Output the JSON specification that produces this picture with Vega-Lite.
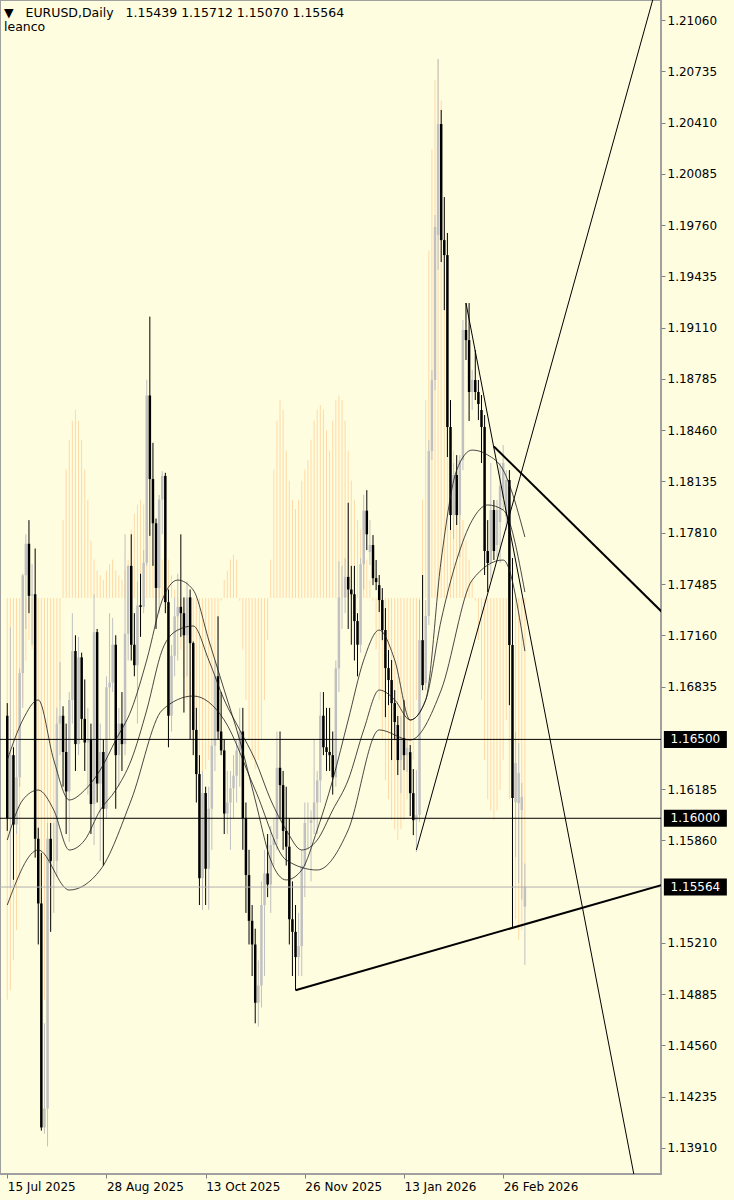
{
"$schema":"https://vega.github.io/schema/vega-lite/v6.json",
"width":661,"height":1174,
"autosize":{"type":"none"},
"padding":{"left":0,"top":0,"right":73,"bottom":26},
"background":"#FFFDE0",
"title":{"text":["▼\u00a0\u00a0\u00a0EURUSD,Daily\u00a0\u00a0\u00a01.15439 1.15712 1.15070 1.15564","leanco"],"anchor":"start","frame":"group","orient":"top","offset":0,"dy":43,"dx":4,"baseline":"alphabetic","lineHeight":14,"font":"DejaVu Sans","fontSize":12.5,"fontWeight":"normal","color":"#000000"},
"datasets":{
"candles":[
{"i":0,"o":1.1665,"h":1.1673,"l":1.1592,"c":1.1600},
{"i":1,"o":1.1600,"h":1.1721,"l":1.1556,"c":1.1640},
{"i":2,"o":1.1640,"h":1.1645,"l":1.1561,"c":1.1596},
{"i":3,"o":1.1596,"h":1.1650,"l":1.1590,"c":1.1626},
{"i":4,"o":1.1626,"h":1.1695,"l":1.1620,"c":1.1692},
{"i":5,"o":1.1692,"h":1.1755,"l":1.1670,"c":1.1754},
{"i":6,"o":1.1754,"h":1.1780,"l":1.1720,"c":1.1774},
{"i":7,"o":1.1774,"h":1.1789,"l":1.1730,"c":1.1741},
{"i":8,"o":1.1741,"h":1.1761,"l":1.1710,"c":1.1742},
{"i":9,"o":1.1742,"h":1.1771,"l":1.1575,"c":1.1587},
{"i":10,"o":1.1587,"h":1.1594,"l":1.1520,"c":1.1546},
{"i":11,"o":1.1546,"h":1.1578,"l":1.1402,"c":1.1404},
{"i":12,"o":1.1404,"h":1.1470,"l":1.1400,"c":1.1416},
{"i":13,"o":1.1416,"h":1.1597,"l":1.1392,"c":1.1587},
{"i":14,"o":1.1587,"h":1.1597,"l":1.1528,"c":1.1573},
{"i":15,"o":1.1573,"h":1.1597,"l":1.1540,"c":1.1573},
{"i":16,"o":1.1573,"h":1.1670,"l":1.1563,"c":1.1660},
{"i":17,"o":1.1660,"h":1.1699,"l":1.1640,"c":1.1665},
{"i":18,"o":1.1665,"h":1.1671,"l":1.1620,"c":1.1642},
{"i":19,"o":1.1642,"h":1.1660,"l":1.1590,"c":1.1617},
{"i":20,"o":1.1617,"h":1.1680,"l":1.1585,"c":1.1675},
{"i":21,"o":1.1675,"h":1.1730,"l":1.1660,"c":1.1706},
{"i":22,"o":1.1706,"h":1.1716,"l":1.1630,"c":1.1647},
{"i":23,"o":1.1647,"h":1.1715,"l":1.1640,"c":1.1702},
{"i":24,"o":1.1702,"h":1.1705,"l":1.1650,"c":1.1663},
{"i":25,"o":1.1663,"h":1.1688,"l":1.1630,"c":1.1648},
{"i":26,"o":1.1648,"h":1.1670,"l":1.1615,"c":1.1650},
{"i":27,"o":1.1650,"h":1.1660,"l":1.1590,"c":1.1609},
{"i":28,"o":1.1609,"h":1.1742,"l":1.1583,"c":1.1718},
{"i":29,"o":1.1718,"h":1.1720,"l":1.1610,"c":1.1622},
{"i":30,"o":1.1622,"h":1.1660,"l":1.1573,"c":1.1642},
{"i":31,"o":1.1642,"h":1.1650,"l":1.1570,"c":1.1606},
{"i":32,"o":1.1606,"h":1.1690,"l":1.1600,"c":1.1683},
{"i":33,"o":1.1683,"h":1.1730,"l":1.1650,"c":1.1686},
{"i":34,"o":1.1686,"h":1.1727,"l":1.1680,"c":1.1710},
{"i":35,"o":1.1710,"h":1.1716,"l":1.1606,"c":1.1640},
{"i":36,"o":1.1640,"h":1.1670,"l":1.1620,"c":1.1660},
{"i":37,"o":1.1660,"h":1.1680,"l":1.1630,"c":1.1647},
{"i":38,"o":1.1647,"h":1.1780,"l":1.1640,"c":1.1717},
{"i":39,"o":1.1717,"h":1.1760,"l":1.1700,"c":1.1760},
{"i":40,"o":1.1760,"h":1.1780,"l":1.1700,"c":1.1710},
{"i":41,"o":1.1710,"h":1.1730,"l":1.1690,"c":1.1697},
{"i":42,"o":1.1697,"h":1.1750,"l":1.1660,"c":1.1735},
{"i":43,"o":1.1735,"h":1.1755,"l":1.1715,"c":1.1734},
{"i":44,"o":1.1734,"h":1.1770,"l":1.1730,"c":1.1762},
{"i":45,"o":1.1762,"h":1.1878,"l":1.1760,"c":1.1868},
{"i":46,"o":1.1868,"h":1.1918,"l":1.1779,"c":1.1815},
{"i":47,"o":1.1815,"h":1.1838,"l":1.1760,"c":1.1787},
{"i":48,"o":1.1787,"h":1.1790,"l":1.1720,"c":1.1746},
{"i":49,"o":1.1746,"h":1.1805,"l":1.1730,"c":1.1802},
{"i":50,"o":1.1802,"h":1.1820,"l":1.1780,"c":1.1817},
{"i":51,"o":1.1817,"h":1.1819,"l":1.1730,"c":1.1737},
{"i":52,"o":1.1737,"h":1.1745,"l":1.1645,"c":1.1665},
{"i":53,"o":1.1665,"h":1.1710,"l":1.1655,"c":1.1703},
{"i":54,"o":1.1703,"h":1.1740,"l":1.1690,"c":1.1728},
{"i":55,"o":1.1728,"h":1.1755,"l":1.1700,"c":1.1734},
{"i":56,"o":1.1734,"h":1.1780,"l":1.1715,"c":1.1730},
{"i":57,"o":1.1730,"h":1.1740,"l":1.1667,"c":1.1716},
{"i":58,"o":1.1716,"h":1.1750,"l":1.1690,"c":1.1740},
{"i":59,"o":1.1740,"h":1.1745,"l":1.1650,"c":1.1711},
{"i":60,"o":1.1711,"h":1.1712,"l":1.1640,"c":1.1656},
{"i":61,"o":1.1656,"h":1.1670,"l":1.1610,"c":1.1628},
{"i":62,"o":1.1628,"h":1.1640,"l":1.1545,"c":1.1562},
{"i":63,"o":1.1562,"h":1.1630,"l":1.1542,"c":1.1616},
{"i":64,"o":1.1616,"h":1.1620,"l":1.1545,"c":1.1568},
{"i":65,"o":1.1568,"h":1.1620,"l":1.1542,"c":1.1606},
{"i":66,"o":1.1606,"h":1.1650,"l":1.1580,"c":1.1646},
{"i":67,"o":1.1646,"h":1.1700,"l":1.1630,"c":1.1690},
{"i":68,"o":1.1690,"h":1.1728,"l":1.1650,"c":1.1655},
{"i":69,"o":1.1655,"h":1.1680,"l":1.1640,"c":1.1643},
{"i":70,"o":1.1643,"h":1.1650,"l":1.1590,"c":1.1603},
{"i":71,"o":1.1603,"h":1.1630,"l":1.1590,"c":1.1610},
{"i":72,"o":1.1610,"h":1.1630,"l":1.1580,"c":1.1619},
{"i":73,"o":1.1619,"h":1.1640,"l":1.1600,"c":1.1627},
{"i":74,"o":1.1627,"h":1.1650,"l":1.1610,"c":1.1643},
{"i":75,"o":1.1643,"h":1.1670,"l":1.1620,"c":1.1655},
{"i":76,"o":1.1655,"h":1.1670,"l":1.1580,"c":1.1600},
{"i":77,"o":1.1600,"h":1.1610,"l":1.1540,"c":1.1564},
{"i":78,"o":1.1564,"h":1.1580,"l":1.1520,"c":1.1535},
{"i":79,"o":1.1535,"h":1.1545,"l":1.1500,"c":1.1520},
{"i":80,"o":1.1520,"h":1.1530,"l":1.1470,"c":1.1483},
{"i":81,"o":1.1483,"h":1.1510,"l":1.1468,"c":1.1494},
{"i":82,"o":1.1494,"h":1.1560,"l":1.1480,"c":1.1545},
{"i":83,"o":1.1545,"h":1.1580,"l":1.1500,"c":1.1565},
{"i":84,"o":1.1565,"h":1.1590,"l":1.1550,"c":1.1558},
{"i":85,"o":1.1558,"h":1.1595,"l":1.1540,"c":1.1583},
{"i":86,"o":1.1583,"h":1.1600,"l":1.1570,"c":1.1587},
{"i":87,"o":1.1587,"h":1.1655,"l":1.1580,"c":1.1632},
{"i":88,"o":1.1632,"h":1.1655,"l":1.1600,"c":1.1621},
{"i":89,"o":1.1621,"h":1.1630,"l":1.1580,"c":1.1592},
{"i":90,"o":1.1592,"h":1.1620,"l":1.1570,"c":1.1582},
{"i":91,"o":1.1582,"h":1.1600,"l":1.1520,"c":1.1536},
{"i":92,"o":1.1536,"h":1.1560,"l":1.1500,"c":1.1528},
{"i":93,"o":1.1528,"h":1.1545,"l":1.1491,"c":1.1512},
{"i":94,"o":1.1512,"h":1.1540,"l":1.1500,"c":1.1519},
{"i":95,"o":1.1519,"h":1.1580,"l":1.1500,"c":1.1570},
{"i":96,"o":1.1570,"h":1.1610,"l":1.1550,"c":1.1597},
{"i":97,"o":1.1597,"h":1.1610,"l":1.1580,"c":1.1597},
{"i":98,"o":1.1597,"h":1.1605,"l":1.1560,"c":1.1599},
{"i":99,"o":1.1599,"h":1.1650,"l":1.1590,"c":1.1610},
{"i":100,"o":1.1610,"h":1.1630,"l":1.1590,"c":1.1624},
{"i":101,"o":1.1624,"h":1.1680,"l":1.1610,"c":1.1665},
{"i":102,"o":1.1665,"h":1.1680,"l":1.1640,"c":1.1645},
{"i":103,"o":1.1645,"h":1.1670,"l":1.1630,"c":1.1642},
{"i":104,"o":1.1642,"h":1.1670,"l":1.1630,"c":1.1640},
{"i":105,"o":1.1640,"h":1.1655,"l":1.1615,"c":1.1626},
{"i":106,"o":1.1626,"h":1.1700,"l":1.1620,"c":1.1695},
{"i":107,"o":1.1695,"h":1.1763,"l":1.1680,"c":1.1740},
{"i":108,"o":1.1740,"h":1.1760,"l":1.1720,"c":1.1740},
{"i":109,"o":1.1740,"h":1.1765,"l":1.1730,"c":1.1753},
{"i":110,"o":1.1753,"h":1.1800,"l":1.1720,"c":1.1745},
{"i":111,"o":1.1745,"h":1.1760,"l":1.1710,"c":1.1742},
{"i":112,"o":1.1742,"h":1.1760,"l":1.1700,"c":1.1725},
{"i":113,"o":1.1725,"h":1.1730,"l":1.1690,"c":1.1710},
{"i":114,"o":1.1710,"h":1.1765,"l":1.1705,"c":1.1761},
{"i":115,"o":1.1761,"h":1.1805,"l":1.1745,"c":1.1795},
{"i":116,"o":1.1795,"h":1.1808,"l":1.1770,"c":1.1780},
{"i":117,"o":1.17687,"h":1.17890,"l":1.17605,"c":1.17732},
{"i":118,"o":1.17732,"h":1.17795,"l":1.17478,"c":1.17522},
{"i":119,"o":1.17522,"h":1.17637,"l":1.17446,"c":1.17497},
{"i":120,"o":1.17478,"h":1.17542,"l":1.17307,"c":1.17383},
{"i":121,"o":1.17383,"h":1.17459,"l":1.17129,"c":1.17193},
{"i":122,"o":1.17193,"h":1.17332,"l":1.16641,"c":1.16952},
{"i":123,"o":1.16952,"h":1.17066,"l":1.16717,"c":1.16876},
{"i":124,"o":1.16876,"h":1.17003,"l":1.16369,"c":1.16730},
{"i":125,"o":1.16730,"h":1.16812,"l":1.16495,"c":1.16610},
{"i":126,"o":1.16591,"h":1.16648,"l":1.16274,"c":1.16369},
{"i":127,"o":1.16369,"h":1.16648,"l":1.16159,"c":1.16508},
{"i":128,"o":1.16508,"h":1.16749,"l":1.16305,"c":1.16400},
{"i":129,"o":1.16400,"h":1.16495,"l":1.16293,"c":1.16445},
{"i":130,"o":1.16419,"h":1.16464,"l":1.16014,"c":1.16159},
{"i":131,"o":1.16159,"h":1.16312,"l":1.15893,"c":1.15988},
{"i":132,"o":1.15988,"h":1.16305,"l":1.15785,"c":1.16020},
{"i":133,"o":1.16020,"h":1.17383,"l":1.15976,"c":1.17129},
{"i":134,"o":1.17129,"h":1.17542,"l":1.16812,"c":1.16844},
{"i":135,"o":1.16857,"h":1.17383,"l":1.16812,"c":1.17282},
{"i":136,"o":1.17282,"h":1.18397,"l":1.17225,"c":1.18328},
{"i":137,"o":1.18328,"h":1.18841,"l":1.18271,"c":1.18778},
{"i":138,"o":1.18778,"h":1.19824,"l":1.18714,"c":1.19748},
{"i":139,"o":1.19697,"h":1.20813,"l":1.19475,"c":1.20401},
{"i":140,"o":1.20401,"h":1.20490,"l":1.19526,"c":1.19665},
{"i":141,"o":1.19665,"h":1.19938,"l":1.19221,"c":1.19570},
{"i":142,"o":1.19570,"h":1.19710,"l":1.18290,"c":1.18480},
{"i":143,"o":1.18480,"h":1.18651,"l":1.17827,"c":1.17922},
{"i":144,"o":1.17922,"h":1.18252,"l":1.17770,"c":1.18176},
{"i":145,"o":1.18176,"h":1.18302,"l":1.17859,"c":1.17922},
{"i":146,"o":1.17922,"h":1.18302,"l":1.17656,"c":1.18271},
{"i":147,"o":1.18271,"h":1.19158,"l":1.18207,"c":1.19095},
{"i":148,"o":1.19095,"h":1.19266,"l":1.18905,"c":1.19031},
{"i":149,"o":1.19031,"h":1.19266,"l":1.18518,"c":1.18702},
{"i":150,"o":1.18702,"h":1.18841,"l":1.18588,"c":1.18778},
{"i":151,"o":1.18778,"h":1.18968,"l":1.18651,"c":1.18702},
{"i":152,"o":1.18702,"h":1.18778,"l":1.18524,"c":1.18626},
{"i":153,"o":1.18588,"h":1.18683,"l":1.18252,"c":1.18480},
{"i":154,"o":1.18480,"h":1.18556,"l":1.17542,"c":1.17694},
{"i":155,"o":1.17694,"h":1.17890,"l":1.17434,"c":1.17618},
{"i":156,"o":1.17618,"h":1.18252,"l":1.17510,"c":1.17954},
{"i":157,"o":1.17954,"h":1.18017,"l":1.17637,"c":1.17694},
{"i":158,"o":1.17732,"h":1.18017,"l":1.17656,"c":1.17954},
{"i":159,"o":1.17878,"h":1.18252,"l":1.17618,"c":1.18106},
{"i":160,"o":1.18030,"h":1.18366,"l":1.17954,"c":1.18252},
{"i":161,"o":1.17916,"h":1.18207,"l":1.17827,"c":1.18144},
{"i":162,"o":1.18144,"h":1.18207,"l":1.16717,"c":1.17098},
{"i":163,"o":1.17098,"h":1.17650,"l":1.15311,"c":1.16128},
{"i":164,"o":1.16102,"h":1.16546,"l":1.15754,"c":1.16350},
{"i":165,"o":1.16096,"h":1.16476,"l":1.15589,"c":1.16286},
{"i":166,"o":1.16052,"h":1.16223,"l":1.15484,"c":1.16134},
{"i":167,"o":1.15439,"h":1.15712,"l":1.15070,"c":1.15564}
],
"osc":[
{"i":0,"v":1.1485},{"i":1,"v":1.1491},{"i":2,"v":1.1510},{"i":3,"v":1.1529},{"i":4,"v":1.1561},{"i":5,"v":1.1675},{"i":6,"v":1.1700},{"i":7,"v":1.1713},{"i":8,"v":1.1707},{"i":9,"v":1.1675},
{"i":10,"v":1.1580},{"i":11,"v":1.1517},{"i":12,"v":1.1485},{"i":13,"v":1.1510},{"i":14,"v":1.1536},{"i":15,"v":1.1561},{"i":16,"v":1.1612},{"i":17,"v":1.1675},{"i":18,"v":1.1789},{"i":19,"v":1.1821},
{"i":20,"v":1.1840},{"i":21,"v":1.1852},{"i":22,"v":1.1859},{"i":23,"v":1.1852},{"i":24,"v":1.1840},{"i":25,"v":1.1821},{"i":26,"v":1.1802},{"i":27,"v":1.1776},{"i":28,"v":1.1764},{"i":29,"v":1.1757},
{"i":30,"v":1.1754},{"i":31,"v":1.1751},{"i":32,"v":1.1757},{"i":33,"v":1.1761},{"i":34,"v":1.1764},{"i":35,"v":1.1757},{"i":36,"v":1.1754},{"i":37,"v":1.1751},{"i":38,"v":1.1757},{"i":39,"v":1.1764},
{"i":40,"v":1.1783},{"i":41,"v":1.1793},{"i":42,"v":1.1799},{"i":43,"v":1.1802},{"i":44,"v":1.1799},{"i":45,"v":1.1789},{"i":46,"v":1.1783},{"i":47,"v":1.1764},{"i":48,"v":1.1757},{"i":49,"v":1.1754},
{"i":50,"v":1.1764},{"i":51,"v":1.1773},{"i":52,"v":1.1764},{"i":53,"v":1.1754},{"i":54,"v":1.1745},{"i":55,"v":1.1726},{"i":56,"v":1.1707},{"i":57,"v":1.1689},{"i":58,"v":1.1675},{"i":59,"v":1.1662},
{"i":60,"v":1.1650},{"i":61,"v":1.1637},{"i":62,"v":1.1631},{"i":63,"v":1.1627},{"i":64,"v":1.1631},{"i":65,"v":1.1637},{"i":66,"v":1.1650},{"i":67,"v":1.1675},{"i":68,"v":1.1713},{"i":69,"v":1.1738},
{"i":70,"v":1.1751},{"i":71,"v":1.1757},{"i":72,"v":1.1764},{"i":73,"v":1.1767},{"i":74,"v":1.1764},{"i":75,"v":1.1738},{"i":76,"v":1.1707},{"i":77,"v":1.1675},{"i":78,"v":1.1650},{"i":79,"v":1.1637},
{"i":80,"v":1.1631},{"i":81,"v":1.1637},{"i":82,"v":1.1650},{"i":83,"v":1.1675},{"i":84,"v":1.1713},{"i":85,"v":1.1764},{"i":86,"v":1.1821},{"i":87,"v":1.1852},{"i":88,"v":1.1865},{"i":89,"v":1.1859},
{"i":90,"v":1.1833},{"i":91,"v":1.1814},{"i":92,"v":1.1802},{"i":93,"v":1.1796},{"i":94,"v":1.1802},{"i":95,"v":1.1814},{"i":96,"v":1.1821},{"i":97,"v":1.1827},{"i":98,"v":1.1840},{"i":99,"v":1.1852},
{"i":100,"v":1.1859},{"i":101,"v":1.1862},{"i":102,"v":1.1859},{"i":103,"v":1.1846},{"i":104,"v":1.1833},{"i":105,"v":1.1852},{"i":106,"v":1.1865},{"i":107,"v":1.1868},{"i":108,"v":1.1865},{"i":109,"v":1.1852},
{"i":110,"v":1.1833},{"i":111,"v":1.1814},{"i":112,"v":1.1802},{"i":113,"v":1.1789},{"i":114,"v":1.1783},{"i":115,"v":1.1776},{"i":116,"v":1.1764},{"i":117,"v":1.1751},{"i":118,"v":1.1738},{"i":119,"v":1.1707},
{"i":120,"v":1.1675},{"i":121,"v":1.1650},{"i":122,"v":1.1624},{"i":123,"v":1.1612},{"i":124,"v":1.1599},{"i":125,"v":1.1593},{"i":126,"v":1.1586},{"i":127,"v":1.1593},{"i":128,"v":1.1599},{"i":129,"v":1.1612},
{"i":130,"v":1.1624},{"i":131,"v":1.1637},{"i":132,"v":1.1675},{"i":133,"v":1.1738},{"i":134,"v":1.1802},{"i":135,"v":1.1865},{"i":136,"v":1.1960},{"i":137,"v":1.2024},{"i":138,"v":1.2068},{"i":139,"v":1.2081},
{"i":140,"v":1.2055},{"i":141,"v":1.1992},{"i":142,"v":1.1929},{"i":143,"v":1.1865},{"i":144,"v":1.1833},{"i":145,"v":1.1814},{"i":146,"v":1.1802},{"i":147,"v":1.1789},{"i":148,"v":1.1776},{"i":149,"v":1.1764},
{"i":150,"v":1.1751},{"i":151,"v":1.1738},{"i":152,"v":1.1713},{"i":153,"v":1.1675},{"i":154,"v":1.1637},{"i":155,"v":1.1612},{"i":156,"v":1.1605},{"i":157,"v":1.1599},{"i":158,"v":1.1605},{"i":159,"v":1.1618},
{"i":160,"v":1.1637},{"i":161,"v":1.1662},{"i":162,"v":1.1612},{"i":163,"v":1.1561},{"i":164,"v":1.1536},{"i":165,"v":1.1523},{"i":166,"v":1.1529},{"i":167,"v":1.1548}
],
"ma":[
{"ma":"F","i":0,"v":1.16369},{"ma":"F","i":5,"v":1.16623},{"ma":"F","i":10,"v":1.16750},{"ma":"F","i":15,"v":1.16369},{"ma":"F","i":20,"v":1.16116},{"ma":"F","i":25,"v":1.16179},{"ma":"F","i":30,"v":1.16306},{"ma":"F","i":35,"v":1.16496},{"ma":"F","i":40,"v":1.16686},{"ma":"F","i":45,"v":1.17003},{"ma":"F","i":50,"v":1.17383},{"ma":"F","i":55,"v":1.17510},{"ma":"F","i":60,"v":1.17447},{"ma":"F","i":65,"v":1.17130},{"ma":"F","i":70,"v":1.16813},{"ma":"F","i":75,"v":1.16496},{"ma":"F","i":80,"v":1.16116},{"ma":"F","i":85,"v":1.15735},{"ma":"F","i":90,"v":1.15609},{"ma":"F","i":95,"v":1.15672},{"ma":"F","i":100,"v":1.15926},{"ma":"F","i":105,"v":1.16243},{"ma":"F","i":110,"v":1.16623},{"ma":"F","i":115,"v":1.17003},{"ma":"F","i":120,"v":1.17193},{"ma":"F","i":125,"v":1.17003},{"ma":"F","i":130,"v":1.16623},{"ma":"F","i":135,"v":1.16750},{"ma":"F","i":140,"v":1.17637},{"ma":"F","i":145,"v":1.18207},{"ma":"F","i":150,"v":1.18334},{"ma":"F","i":155,"v":1.18303},{"ma":"F","i":160,"v":1.18207},{"ma":"F","i":167,"v":1.17783},
{"ma":"M","i":0,"v":1.15862},{"ma":"M","i":5,"v":1.16116},{"ma":"M","i":10,"v":1.16179},{"ma":"M","i":15,"v":1.16052},{"ma":"M","i":20,"v":1.15799},{"ma":"M","i":25,"v":1.15862},{"ma":"M","i":30,"v":1.16052},{"ma":"M","i":35,"v":1.16179},{"ma":"M","i":40,"v":1.16369},{"ma":"M","i":45,"v":1.16686},{"ma":"M","i":50,"v":1.17067},{"ma":"M","i":55,"v":1.17193},{"ma":"M","i":60,"v":1.17219},{"ma":"M","i":65,"v":1.17003},{"ma":"M","i":70,"v":1.16750},{"ma":"M","i":75,"v":1.16560},{"ma":"M","i":80,"v":1.16369},{"ma":"M","i":85,"v":1.16116},{"ma":"M","i":90,"v":1.15926},{"ma":"M","i":95,"v":1.15799},{"ma":"M","i":100,"v":1.15862},{"ma":"M","i":105,"v":1.16052},{"ma":"M","i":110,"v":1.16243},{"ma":"M","i":115,"v":1.16560},{"ma":"M","i":120,"v":1.16813},{"ma":"M","i":125,"v":1.16750},{"ma":"M","i":130,"v":1.16623},{"ma":"M","i":135,"v":1.16750},{"ma":"M","i":140,"v":1.17257},{"ma":"M","i":145,"v":1.17637},{"ma":"M","i":150,"v":1.17889},{"ma":"M","i":155,"v":1.17986},{"ma":"M","i":160,"v":1.17954},{"ma":"M","i":167,"v":1.17434},
{"ma":"S","i":0,"v":1.15450},{"ma":"S","i":10,"v":1.15799},{"ma":"S","i":20,"v":1.15545},{"ma":"S","i":30,"v":1.15672},{"ma":"S","i":40,"v":1.16116},{"ma":"S","i":50,"v":1.16686},{"ma":"S","i":60,"v":1.16775},{"ma":"S","i":70,"v":1.16623},{"ma":"S","i":80,"v":1.16179},{"ma":"S","i":90,"v":1.15735},{"ma":"S","i":100,"v":1.15672},{"ma":"S","i":110,"v":1.15926},{"ma":"S","i":120,"v":1.16560},{"ma":"S","i":130,"v":1.16496},{"ma":"S","i":140,"v":1.16813},{"ma":"S","i":150,"v":1.17510},{"ma":"S","i":160,"v":1.17637},{"ma":"S","i":167,"v":1.17060}
],
"thin":[
{"id":"up","i":132,"p":1.15799},{"id":"up","i":212,"p":1.21453},
{"id":"down","i":148,"p":1.19266},{"id":"down","i":205,"p":1.13453}
],
"thick":[
{"id":"support","i":93,"p":1.14910},{"id":"support","i":212,"p":1.15582},
{"id":"resist","i":157,"p":1.18357},{"id":"resist","i":212,"p":1.17293}
],
"levels":[
{"level":1.165,"label":"1.16500","kind":"line"},
{"level":1.16,"label":"1.16000","kind":"line"},
{"level":1.15564,"label":"1.15564","kind":"price"}
]
},
"layer":[
{"data":{"name":"osc"},"mark":{"type":"rule","color":"#FFD9A6","strokeWidth":1},
 "encoding":{
  "x":{"field":"i","type":"quantitative","scale":{"domain":[-0.73,209.3],"nice":false,"zero":false},
   "axis":{"orient":"bottom","title":null,"values":[0,32,64,96,128,160],"labelExpr":"datum.value==0?'15 Jul 2025':datum.value==32?'28 Aug 2025':datum.value==64?'13 Oct 2025':datum.value==96?'26 Nov 2025':datum.value==128?'13 Jan 2026':'26 Feb 2026'","labelAlign":"left","labelBaseline":"top","labelPadding":3,"labelFlush":false,"labelOverlap":false,"tickSize":4,"tickColor":"#808080","domain":false,"grid":false,"labelFont":"DejaVu Sans","labelFontSize":12,"labelColor":"#000000"}},
  "y":{"field":"v","type":"quantitative","scale":{"domain":[1.13745,1.21187],"nice":false,"zero":false},
   "axis":{"orient":"right","title":null,"values":[1.2106,1.20735,1.2041,1.20085,1.1976,1.19435,1.1911,1.18785,1.1846,1.18135,1.1781,1.17485,1.1716,1.16835,1.16185,1.1586,1.1521,1.14885,1.1456,1.14235,1.1391],"format":".5f","labelAlign":"left","labelBaseline":"middle","labelPadding":2,"tickSize":4,"tickColor":"#808080","domain":false,"grid":false,"labelFont":"DejaVu Sans","labelFontSize":12,"labelColor":"#000000"}},
  "y2":{"datum":1.17396}}},
{"data":{"name":"candles"},"mark":{"type":"rule","strokeWidth":1},
 "encoding":{"x":{"field":"i","type":"quantitative"},"y":{"field":"l","type":"quantitative"},"y2":{"field":"h"},
  "color":{"condition":{"test":"datum.c>=datum.o","value":"#C0C0C0"},"value":"#000000"}}},
{"data":{"name":"candles"},"mark":{"type":"bar","size":2.5},
 "encoding":{"x":{"field":"i","type":"quantitative"},"y":{"field":"o","type":"quantitative"},"y2":{"field":"c"},
  "color":{"condition":{"test":"datum.c>=datum.o","value":"#C0C0C0"},"value":"#000000"}}},
{"data":{"name":"ma"},"mark":{"type":"line","color":"#1A1A1A","strokeWidth":0.8,"interpolate":"monotone"},
 "encoding":{"x":{"field":"i","type":"quantitative"},"y":{"field":"v","type":"quantitative"},"detail":{"field":"ma"}}},
{"data":{"name":"levels"},"mark":{"type":"rule","strokeWidth":1},
 "encoding":{"y":{"field":"level","type":"quantitative"},
  "color":{"condition":{"test":"datum.kind=='price'","value":"#B0B0B0"},"value":"#000000"}}},
{"data":{"name":"thin"},"mark":{"type":"line","color":"#000000","strokeWidth":1,"clip":true},
 "encoding":{"x":{"field":"i","type":"quantitative"},"y":{"field":"p","type":"quantitative"},"detail":{"field":"id"}}},
{"data":{"name":"thick"},"mark":{"type":"line","color":"#000000","strokeWidth":2,"clip":true},
 "encoding":{"x":{"field":"i","type":"quantitative"},"y":{"field":"p","type":"quantitative"},"detail":{"field":"id"}}},
{"data":{"name":"levels"},"mark":{"type":"tick","orient":"horizontal","thickness":17,"size":63,"color":"#000000","opacity":1},
 "encoding":{"x":{"datum":222,"type":"quantitative"},"y":{"field":"level","type":"quantitative"}}},
{"data":{"name":"levels"},"mark":{"type":"text","color":"#FFFFFF","font":"DejaVu Sans","fontSize":12,"align":"center","baseline":"middle"},
 "encoding":{"x":{"datum":222,"type":"quantitative"},"y":{"field":"level","type":"quantitative"},"text":{"field":"label"}}}
],
"config":{"view":{"stroke":"#A0A0A0","strokeWidth":2}}
}
